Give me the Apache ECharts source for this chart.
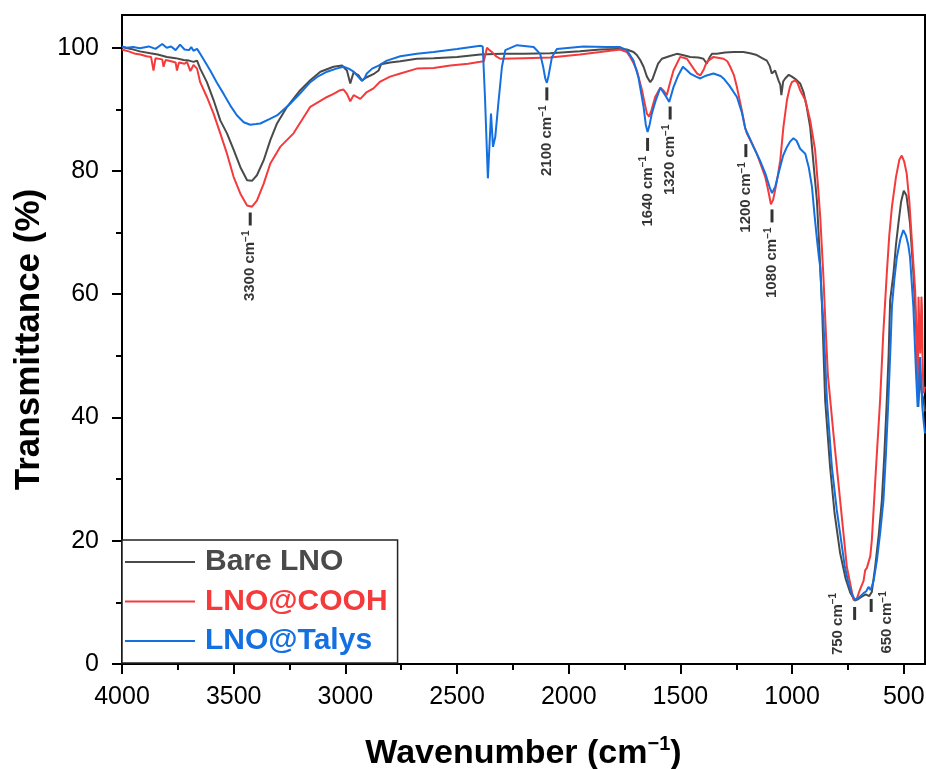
<!DOCTYPE html>
<html><head><meta charset="utf-8">
<script src="https://cdn.jsdelivr.net/npm/echarts@6/dist/echarts.min.js"></script>
<style>html,body{margin:0;padding:0;background:#fff}#c{width:926px;height:769px}</style>
</head><body><div id="c"></div>
<script>
const FONT = "'Liberation Sans', Arial, Helvetica, sans-serif";
const xTicks = [4000, 3500, 3000, 2500, 2000, 1500, 1000, 500];
const xMinorTicks = [3750, 3250, 2750, 2250, 1750, 1250, 750];
const yTicks = [0, 20, 40, 60, 80, 100];
const yMinorTicks = [10, 30, 50, 70, 90];
const seriesNames = ['Bare LNO', 'LNO@COOH', 'LNO@Talys'];
const seriesColors = ['#4a4a4a', '#f53a3c', '#1470e0'];

const bareLNO = [
[4000,100.1],[3960,99.8],[3920,99.4],[3873,99.1],[3840,98.9],[3799,98.5],[3760,98.3],[3724,98.0],[3700,97.9],[3680,97.7],[3664,97.9],[3650,96.6],[3620,94.4],[3590,91.5],[3560,88.2],[3530,86.1],[3500,83.4],[3470,80.6],[3440,78.5],[3418,78.4],[3396,79.3],[3366,81.7],[3336,85.0],[3306,87.7],[3261,90.4],[3202,93.1],[3157,94.7],[3112,96.1],[3053,96.9],[3015,97.1],[2993,96.3],[2978,94.2],[2963,96.0],[2941,95.5],[2926,94.7],[2904,95.2],[2870,95.8],[2851,96.3],[2840,97.3],[2800,97.6],[2754,97.8],[2680,98.2],[2605,98.3],[2500,98.5],[2396,98.9],[2300,99.0],[2200,99.0],[2083,99.1],[1950,99.4],[1859,99.7],[1780,99.8],[1740,99.7],[1710,99.3],[1695,98.8],[1680,98.0],[1665,96.9],[1650,95.3],[1635,94.4],[1625,94.9],[1613,96.1],[1600,97.4],[1583,98.2],[1550,98.6],[1516,99.0],[1490,98.8],[1456,98.5],[1420,98.4],[1397,98.2],[1382,97.4],[1370,98.4],[1359,99.0],[1337,99.0],[1300,99.2],[1262,99.3],[1218,99.3],[1188,99.1],[1158,98.8],[1128,98.2],[1113,97.9],[1100,97.0],[1091,95.8],[1076,96.3],[1061,94.7],[1053,94.0],[1048,92.3],[1040,94.5],[1031,95.0],[1015,95.6],[1001,95.3],[985,94.9],[964,94.2],[949,92.8],[935,90.5],[919,87.1],[905,81.5],[889,75.2],[878,67.5],[867,59.0],[852,42.8],[830,32.0],[810,24.5],[785,18.0],[760,13.8],[740,11.6],[720,10.3],[705,10.5],[690,10.9],[670,11.3],[655,11.0],[643,11.7],[628,15.8],[612,21.0],[598,26.6],[587,34.0],[576,42.8],[568,50.0],[561,59.0],[546,63.4],[535,68.0],[524,71.5],[512,75.0],[500,76.8],[497,77.0],[488,76.0],[480,73.8],[472,71.5],[457,63.4],[442,52.5],[435,41.7],[428,47.0],[420,44.0],[412,43.0],[405,41.0]
];

const lnoCOOH = [
[4000,99.7],[3970,99.4],[3940,99.0],[3918,98.9],[3890,98.6],[3870,98.5],[3859,96.3],[3850,98.3],[3820,98.1],[3814,96.9],[3805,98.0],[3780,97.8],[3760,97.6],[3754,96.3],[3745,97.6],[3720,97.4],[3709,97.7],[3694,96.2],[3680,97.2],[3664,96.6],[3650,94.4],[3620,92.0],[3590,89.3],[3560,86.1],[3530,82.8],[3500,79.0],[3470,76.3],[3440,74.4],[3418,74.2],[3396,75.2],[3366,77.9],[3336,81.2],[3292,83.9],[3232,86.1],[3157,90.4],[3082,92.0],[3053,92.5],[3023,93.1],[3008,93.2],[2993,92.5],[2978,91.3],[2963,92.3],[2956,92.5],[2933,91.7],[2904,92.8],[2874,93.4],[2844,94.5],[2800,95.3],[2754,95.8],[2680,96.6],[2605,96.7],[2530,97.1],[2450,97.4],[2396,97.7],[2380,97.8],[2366,100.0],[2355,99.6],[2344,99.3],[2325,98.6],[2307,98.2],[2200,98.3],[2083,98.4],[1950,98.9],[1859,99.3],[1770,99.7],[1740,99.3],[1725,98.5],[1710,97.5],[1695,96.3],[1672,93.1],[1660,91.0],[1650,89.3],[1640,88.8],[1630,89.8],[1613,92.0],[1590,93.5],[1575,93.0],[1561,92.3],[1545,94.5],[1531,96.3],[1501,98.5],[1471,98.2],[1441,96.6],[1425,95.8],[1411,95.5],[1395,96.5],[1382,97.7],[1352,98.5],[1307,98.2],[1290,97.8],[1277,96.9],[1260,95.5],[1247,93.6],[1225,89.8],[1210,87.0],[1203,86.1],[1180,84.5],[1158,82.8],[1140,81.0],[1120,79.0],[1105,76.5],[1095,74.6],[1085,75.3],[1076,76.9],[1065,79.0],[1053,81.7],[1039,87.1],[1023,91.5],[1010,93.6],[1001,94.4],[986,94.7],[975,94.2],[964,93.1],[941,91.5],[919,88.2],[897,83.4],[885,78.0],[874,72.5],[860,63.0],[852,56.3],[840,47.0],[815,37.4],[785,26.6],[755,15.8],[725,10.4],[720,10.2],[710,10.6],[697,12.0],[680,13.5],[673,15.2],[665,15.6],[658,15.8],[650,17.5],[643,20.1],[624,32.0],[606,42.8],[592,53.5],[583,59.0],[576,63.4],[565,69.5],[553,74.2],[535,79.0],[520,81.8],[509,82.5],[498,81.5],[487,79.6],[475,75.0],[464,68.8],[449,60.6],[442,52.5],[437,44.4],[434,59.6],[430,54.0],[426,50.4],[421,59.6],[419,58.0],[416,50.0],[412,43.9],[405,45.0]
];

const lnoTalys = [
[4000,100.2],[3980,100.0],[3950,100.1],[3920,99.9],[3880,100.2],[3850,99.8],[3820,100.6],[3800,100.0],[3780,100.2],[3760,99.6],[3740,100.5],[3720,99.7],[3700,99.6],[3690,100.1],[3680,99.5],[3664,99.8],[3650,99.0],[3625,97.5],[3605,96.3],[3575,94.3],[3545,92.5],[3515,90.6],[3485,89.0],[3455,87.9],[3426,87.5],[3400,87.6],[3381,87.7],[3340,88.4],[3306,89.0],[3247,90.9],[3202,92.6],[3157,94.4],[3120,95.4],[3082,96.1],[3040,96.6],[3008,96.9],[2985,96.6],[2963,96.1],[2945,95.4],[2926,94.6],[2915,95.0],[2904,95.8],[2880,96.6],[2851,97.1],[2814,97.9],[2754,98.6],[2680,99.0],[2605,99.3],[2500,99.8],[2396,100.3],[2385,100.2],[2375,92.0],[2362,78.8],[2355,84.0],[2348,89.3],[2339,83.9],[2329,85.5],[2315,91.0],[2299,96.9],[2284,99.6],[2232,100.4],[2157,100.1],[2128,99.0],[2115,97.0],[2105,95.0],[2098,94.3],[2090,95.5],[2075,98.5],[2053,99.8],[1934,100.2],[1830,100.1],[1770,100.1],[1740,99.6],[1710,97.9],[1688,95.2],[1665,90.4],[1655,87.5],[1647,86.3],[1638,87.5],[1628,89.3],[1610,91.5],[1590,93.5],[1568,92.3],[1550,91.2],[1531,93.6],[1510,95.5],[1489,96.9],[1470,96.3],[1456,95.8],[1430,95.3],[1411,95.0],[1390,95.4],[1352,95.8],[1320,95.4],[1307,95.0],[1280,93.8],[1247,92.0],[1225,89.5],[1210,86.9],[1190,85.3],[1173,83.9],[1145,81.8],[1120,79.6],[1100,77.3],[1090,76.4],[1075,77.5],[1061,79.6],[1040,82.5],[1023,83.9],[1008,84.8],[994,85.3],[980,84.9],[964,83.6],[941,82.8],[925,80.5],[911,77.4],[900,73.0],[889,69.0],[880,66.0],[874,64.4],[867,59.0],[860,55.8],[844,42.8],[822,32.0],[800,25.0],[785,21.2],[765,16.0],[748,13.1],[730,11.2],[718,10.4],[700,10.8],[680,11.5],[668,11.8],[658,12.5],[648,12.0],[635,13.5],[620,16.9],[605,21.5],[591,26.6],[580,34.0],[569,42.8],[560,51.0],[553,58.0],[542,62.5],[531,66.0],[515,69.0],[502,70.4],[490,69.5],[480,68.0],[472,66.0],[457,57.9],[445,47.1],[438,41.7],[433,44.0],[427,49.8],[422,46.0],[417,41.7],[410,39.0],[405,37.4]
];

const peakWn = [3426, 2098, 1647, 1546, 1207, 1090, 720, 646];
const peakT = [72.2, 92.5, 84.3, 89.4, 83.3, 72.7, 8.2, 9.5];
const peakLabels = ['3300', '2100', '1640', '1320', '1200', '1080', '750', '650'];

const chart = echarts.init(document.getElementById('c'), null, {renderer: 'canvas'});

const annRich = {
  n: {fontSize: 15, fontWeight: 'bold', fontFamily: FONT, color: '#000', lineHeight: 18},
  s: {fontSize: 10, fontWeight: 'bold', fontFamily: FONT, color: '#000', lineHeight: 12, verticalAlign: 'top'}
};
const sideLabelPos = {'750': [-15.5, 17], '650': [17.5, 23.5]};

const peakData = peakWn.map((wn, i) => {
  const item = {value: [wn, peakT[i]], name: peakLabels[i]};
  const pos = sideLabelPos[peakLabels[i]];
  if (pos) {
    item.label = {position: pos, align: 'center', verticalAlign: 'middle'};
  }
  return item;
});

const dataSets = [bareLNO, lnoCOOH, lnoTalys];
const lineSeries = seriesNames.map((name, i) => ({
  name: name,
  type: 'line',
  data: dataSets[i],
  showSymbol: false,
  symbol: 'none',
  color: seriesColors[i],
  lineStyle: {width: 2, color: seriesColors[i]},
  z: 2 + i,
  silent: true
}));

const xRange = {min: 405, max: 4000};
const yRange = {min: 0, max: 105.3};
const plainNum = v => String(Math.round(v));

chart.setOption({
  animation: false,
  backgroundColor: '#fff',
  grid: {left: 122, right: 1, top: 15, bottom: 105, show: true, borderColor: '#000', borderWidth: 2,
         backgroundColor: 'transparent', containLabel: false, outerBoundsMode: 'none'},
  legend: {
    show: true,
    orient: 'vertical',
    left: 122, top: 540,
    padding: [7, 10, 7, 3],
    itemGap: 9.5,
    itemWidth: 70, itemHeight: 2,
    icon: 'rect',
    borderColor: '#222', borderWidth: 1.5,
    backgroundColor: '#fff',
    selectedMode: false,
    textStyle: {fontSize: 30, fontWeight: 'bold', fontFamily: FONT, lineHeight: 30, padding: [0, 0, 0, 5]},
    data: seriesNames.map((n, i) => ({name: n, textStyle: {color: seriesColors[i]}}))
  },
  xAxis: [{
    type: 'value', inverse: true, min: xRange.min, max: xRange.max,
    position: 'bottom',
    name: '{a|Wavenumber (cm}{b|\u22121}{a|)}',
    nameLocation: 'middle', nameGap: 70,
    nameTextStyle: {
      rich: {
        a: {fontSize: 34, fontWeight: 'bold', fontFamily: FONT, color: '#000', lineHeight: 40},
        b: {fontSize: 20, fontWeight: 'bold', fontFamily: FONT, color: '#000', lineHeight: 26, verticalAlign: 'top'}
      }
    },
    axisLine: {show: true, onZero: false, lineStyle: {color: '#000', width: 2}},
    axisTick: {show: true, length: 10, lineStyle: {color: '#000', width: 2}, customValues: xTicks},
    axisLabel: {show: true, fontSize: 25, fontFamily: FONT, color: '#000', margin: 21, customValues: xTicks, formatter: plainNum},
    splitLine: {show: false}
  }, {
    type: 'value', inverse: true, min: xRange.min, max: xRange.max,
    position: 'bottom', gridIndex: 0,
    axisLine: {show: false},
    axisTick: {show: true, length: 6, lineStyle: {color: '#000', width: 2}, customValues: xMinorTicks},
    axisLabel: {show: false, customValues: xMinorTicks},
    splitLine: {show: false}
  }],
  yAxis: [{
    type: 'value', min: yRange.min, max: yRange.max,
    position: 'left',
    name: 'Transmittance (%)',
    nameLocation: 'middle', nameGap: 73,
    nameTextStyle: {fontSize: 35, fontWeight: 'bold', fontFamily: FONT, color: '#000'},
    axisLine: {show: true, onZero: false, lineStyle: {color: '#000', width: 2}},
    axisTick: {show: true, length: 10, lineStyle: {color: '#000', width: 2}, customValues: yTicks},
    axisLabel: {show: true, fontSize: 25, fontFamily: FONT, color: '#000', margin: 23, customValues: yTicks, formatter: plainNum},
    splitLine: {show: false}
  }, {
    type: 'value', min: yRange.min, max: yRange.max,
    position: 'left', gridIndex: 0,
    axisLine: {show: false},
    axisTick: {show: true, length: 6, lineStyle: {color: '#000', width: 2}, customValues: yMinorTicks},
    axisLabel: {show: false, customValues: yMinorTicks},
    splitLine: {show: false}
  }],
  series: lineSeries.concat([{
    name: 'peaks',
    type: 'scatter',
    data: peakData,
    symbol: 'rect',
    symbolSize: [3, 13],
    itemStyle: {color: '#000'},
    z: 10,
    silent: true,
    label: {
      show: true,
      rotate: 90,
      position: 'bottom',
      distance: 5,
      align: 'right',
      verticalAlign: 'middle',
      formatter: p => '{n|' + p.name + ' cm}{s|\u22121}',
      rich: annRich
    }
  }])
});
</script>
</body></html>
